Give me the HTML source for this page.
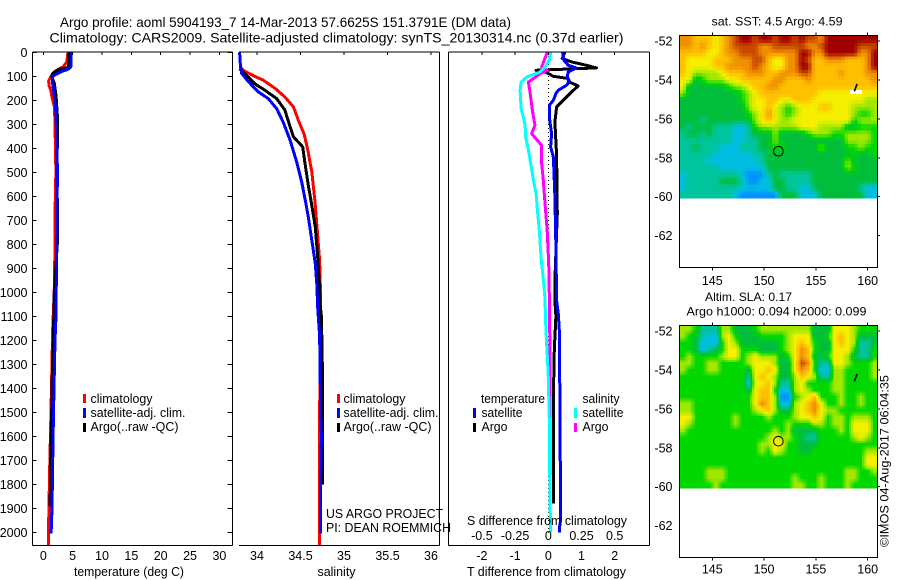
<!DOCTYPE html>
<html>
<head>
<meta charset="utf-8">
<title>Argo profile</title>
<style>
html,body{margin:0;padding:0;background:#fff;width:900px;height:580px;overflow:hidden}
svg{display:block}
text{font-family:"Liberation Sans",sans-serif;fill:#000}
.t12{font-size:12px}
.t13{font-size:12.5px}
.t14{font-size:14px}
</style>
</head>
<body>
<svg id="chart" width="900" height="580" viewBox="0 0 900 580" xmlns="http://www.w3.org/2000/svg">
<g id="plots"></g>
<g>
<text class="t14" x="60" y="27" textLength="451" lengthAdjust="spacingAndGlyphs">Argo profile: aoml 5904193_7 14-Mar-2013 57.6625S 151.3791E (DM data)</text>
<text class="t14" x="49.5" y="42.5" textLength="574" lengthAdjust="spacingAndGlyphs">Climatology: CARS2009. Satellite-adjusted climatology: synTS_20130314.nc (0.37d earlier)</text>
<text class="t13" x="74" y="576" textLength="110" lengthAdjust="spacingAndGlyphs">temperature (deg C)</text>
<text class="t13" x="317.5" y="576" textLength="38" lengthAdjust="spacingAndGlyphs">salinity</text>
<text class="t13" x="467" y="576" textLength="159" lengthAdjust="spacingAndGlyphs">T difference from climatology</text>
<text class="t13" x="467" y="525" textLength="160" lengthAdjust="spacingAndGlyphs">S difference from climatology</text>
<text class="t12" x="711.5" y="25.5" textLength="131" lengthAdjust="spacingAndGlyphs">sat. SST: 4.5 Argo: 4.59</text>
<text class="t12" x="705" y="301" textLength="87" lengthAdjust="spacingAndGlyphs">Altim. SLA: 0.17</text>
<text class="t12" x="686.5" y="315.5" textLength="180" lengthAdjust="spacingAndGlyphs">Argo h1000: 0.094 h2000: 0.099</text>
<text class="t13" x="326" y="518" textLength="117" lengthAdjust="spacingAndGlyphs">US ARGO PROJECT</text>
<text class="t13" x="326" y="532" textLength="125" lengthAdjust="spacingAndGlyphs">PI: DEAN ROEMMICH</text>
<text class="t12" transform="translate(888.5,547) rotate(-90)" x="0" y="0" textLength="172" lengthAdjust="spacingAndGlyphs">©IMOS 04-Aug-2017 06:04:35</text>
</g>
<g>
<rect x="83" y="394" width="3" height="9" fill="#ff0000"/>
<rect x="83" y="408" width="3" height="10" fill="#0000ff"/>
<rect x="83" y="423" width="3" height="9" fill="#000"/>
<text class="t13" x="90.5" y="403" textLength="62" lengthAdjust="spacingAndGlyphs">climatology</text>
<text class="t13" x="90.5" y="417" textLength="95" lengthAdjust="spacingAndGlyphs">satellite-adj. clim.</text>
<text class="t13" x="90.5" y="431" textLength="88" lengthAdjust="spacingAndGlyphs">Argo(..raw -QC)</text>
</g>
<g>
<rect x="337" y="394" width="3" height="9" fill="#ff0000"/>
<rect x="337" y="408" width="3" height="10" fill="#0000ff"/>
<rect x="337" y="423" width="3" height="9" fill="#000"/>
<text class="t13" x="343.5" y="403" textLength="62" lengthAdjust="spacingAndGlyphs">climatology</text>
<text class="t13" x="343.5" y="417" textLength="95" lengthAdjust="spacingAndGlyphs">satellite-adj. clim.</text>
<text class="t13" x="343.5" y="431" textLength="88" lengthAdjust="spacingAndGlyphs">Argo(..raw -QC)</text>
</g>
<g>
<text class="t13" x="481" y="403" textLength="64" lengthAdjust="spacingAndGlyphs">temperature</text>
<rect x="473" y="408" width="3" height="10" fill="#0000ff"/>
<rect x="473" y="423" width="3" height="9" fill="#000"/>
<text class="t13" x="481.5" y="417" textLength="41" lengthAdjust="spacingAndGlyphs">satellite</text>
<text class="t13" x="481.5" y="431" textLength="26" lengthAdjust="spacingAndGlyphs">Argo</text>
<text class="t13" x="582.5" y="403" textLength="37" lengthAdjust="spacingAndGlyphs">salinity</text>
<rect x="574" y="408" width="3" height="10" fill="#00ffff"/>
<rect x="574" y="423" width="3" height="9" fill="#ff00ff"/>
<text class="t13" x="582.5" y="417" textLength="41" lengthAdjust="spacingAndGlyphs">satellite</text>
<text class="t13" x="582.5" y="431" textLength="26" lengthAdjust="spacingAndGlyphs">Argo</text>
</g>
</svg>
<script>
// ---- axis tick values ----
const depthTicks = [0,100,200,300,400,500,600,700,800,900,1000,1100,1200,1300,1400,1500,1600,1700,1800,1900,2000];
const tempTicks = [0,5,10,15,20,25,30];
const salTicks = [34,34.5,35,35.5,36];
const tDiffTicks = [-2,-1,0,1,2];
const sDiffTicks = [-0.5,-0.25,0,0.25,0.5];
const lonTicks = [145,150,155,160];
const latTicks = [-52,-54,-56,-58,-60,-62];

// ---- temperature profiles (depth dbar / deg C) ----
const redTDepth = [0,40,60,70,80,90,100,120,140,160,190,230,300,500,600,900,1000,1150,1355,1550,1730,1950,2055];
const redTValue = [4.2,4.0,3.4,2.6,2.0,1.7,1.3,0.9,1.0,1.3,1.5,1.9,2.0,2.15,2.05,1.95,1.85,1.6,1.43,1.26,1.09,0.92,0.92];
const blueTDepth = [0,60,70,80,90,100,120,150,200,260,400,500,1000,1100,1200,1300,1400,1550,1700,1900,2005];
const blueTValue = [4.72,4.68,4.26,3.13,2.28,1.6,1.54,1.7,2.0,2.16,2.33,2.4,2.2,2.16,2.0,1.9,1.82,1.7,1.6,1.48,1.33];
const blackTDepth = [0,60,65,70,80,90,100,130,180,260,400,410,770,1000,1200,1350,1500,1700,1890];
const blackTValue = [4.43,4.26,4.0,2.85,2.0,1.54,1.43,1.87,2.16,2.39,2.39,2.28,2.45,1.87,1.7,1.54,1.43,1.26,1.15];

// ---- salinity profiles ----
const redSDepth = [0,60,75,98,116,151,186,228,283,339,401,498,623,728,866,1000,1550,2055];
const redSValue = [33.8,33.81,33.84,33.96,34.07,34.21,34.32,34.42,34.475,34.54,34.58,34.63,34.667,34.69,34.72,34.73,34.72,34.72];
const blueSDepth = [0,61,88,122,165,193,235,290,366,457,540,633,686,783,880,978,1050,1100,1180,1300,1500,1600,1800,2005];
const blueSValue = [33.8,33.81,33.824,33.9,34.015,34.13,34.226,34.30,34.38,34.456,34.514,34.563,34.59,34.63,34.67,34.69,34.695,34.705,34.72,34.725,34.73,34.74,34.73,34.73];
const blackSDepth = [68,88,130,158,193,240,310,352,394,457,554,616,728,866,978,1050,1100,1300,1800];
const blackSValue = [33.8,33.86,33.97,34.09,34.226,34.32,34.38,34.42,34.525,34.55,34.59,34.62,34.67,34.7,34.72,34.725,34.74,34.75,34.75];

// ---- differences from climatology ----
const argoTDiffDepth = [0,26,40,54,65,75,84,100,109,125,140,165,200,228,290,429,672,950,1033,1100,1240,1450,1860,1880];
const argoTDiffValue = [0.5,0.42,0.7,1.15,1.45,-0.37,-0.05,0.15,0.6,0.65,0.9,0.7,0.45,0.25,0.2,0.25,0.27,0.2,0.2,0.23,0.18,0.15,0.15,0.15];
const satTDiffDepth = [0,33,54,65,82,103,124,137,158,172,200,221,269,339,394,436,492,603,811,1033,1089,1158,1450,1950,1985,2001];
const satTDiffValue = [0.43,0.47,0.6,0.84,0.6,0.57,0.62,0.55,0.3,0.23,0.15,0.03,0.03,0.1,0.07,0.15,0.17,0.2,0.23,0.25,0.3,0.33,0.35,0.37,0.33,0.33];
const argoSDiffDepth = [0,6,61,75,89,124,165,248,304,339,388,464,533,630,742,880,1033,1228,1367,1880];
const argoSDiffValue = [-0.008,-0.012,-0.05,-0.008,-0.06,-0.15,-0.138,-0.118,-0.1,-0.125,-0.05,-0.05,-0.038,-0.025,-0.008,0.003,0.008,0.012,0.012,0.012];
const satSDiffDepth = [0,33,61,82,103,124,158,235,269,304,353,408,464,533,589,658,742,853,978,1033,1158,1256,1353,1547,1853,2000];
const satSDiffValue = [0.018,0.008,-0.025,-0.062,-0.162,-0.205,-0.212,-0.205,-0.188,-0.175,-0.17,-0.15,-0.132,-0.112,-0.092,-0.082,-0.068,-0.055,-0.032,-0.025,-0.018,-0.008,0,0.008,0.012,0.018];

// ---- map cell values (0 = coldest/lowest colour class, 10 = warmest/highest) ----
const sstGrid = [
[8,8,7,7,7,6,7,8,9,10,10,9,10,10,9,10,10,9,10,9,9,8,10,10,10,10,10,10,10,10],
[8,8,7,8,7,6,7,8,9,9,9,9,8,8,9,9,9,9,9,8,8,9,10,10,10,10,10,9,9,9],
[7,7,7,7,6,6,7,8,8,9,9,9,8,8,8,8,8,8,10,10,8,8,10,10,10,10,10,8,8,10],
[7,6,6,6,6,7,7,7,8,8,8,9,9,7,6,6,8,8,10,9,7,7,8,8,8,7,7,7,8,10],
[7,6,6,6,6,7,7,8,8,8,8,9,8,7,6,6,8,8,10,10,7,7,7,7,7,7,7,7,8,10],
[7,6,5,5,5,5,6,7,7,7,8,8,8,7,7,8,8,8,9,9,7,7,7,7,8,7,7,7,8,8],
[6,6,3,4,5,5,5,6,6,7,7,7,7,7,8,8,7,7,7,8,7,7,7,7,7,7,7,7,7,8],
[6,3,3,3,3,3,3,4,5,5,6,7,7,8,8,7,7,7,7,7,7,7,7,7,7,7,7,7,7,7],
[5,3,3,3,3,3,3,3,3,4,5,6,7,7,7,7,7,7,7,7,7,6,6,6,6,6,6,6,6,6],
[3,3,3,3,3,3,3,3,3,4,5,6,6,7,7,6,6,7,7,7,6,6,6,6,6,6,6,6,5,5],
[3,3,3,3,3,3,3,3,3,3,5,6,6,7,6,5,4,5,6,6,6,7,7,6,6,6,5,5,5,5],
[3,3,3,3,3,3,3,3,3,3,4,5,6,8,6,5,4,5,6,6,6,6,6,6,6,6,5,4,4,5],
[3,3,3,2,3,3,3,3,3,3,3,5,6,7,6,5,5,6,6,6,6,6,6,6,6,6,4,5,5,5],
[3,2,3,3,3,2,2,2,1,1,2,4,5,5,5,5,5,5,6,6,6,5,5,5,5,3,3,4,4,4],
[2,3,3,2,3,2,2,2,1,1,2,3,3,3,5,3,3,3,3,4,5,5,5,4,4,5,5,5,5,4],
[2,2,2,2,2,2,2,2,1,1,2,2,3,3,5,3,3,3,3,3,3,3,3,3,3,5,5,5,5,4],
[2,2,3,2,2,2,1,1,1,2,2,2,3,3,4,4,3,3,3,3,3,5,3,3,3,4,4,5,4,4],
[2,2,2,2,2,1,1,1,1,1,1,2,2,3,3,3,3,3,3,3,3,3,3,3,3,3,4,3,3,4],
[2,2,2,2,1,1,1,1,1,1,1,1,2,3,3,3,3,3,3,3,3,3,3,3,3,5,3,3,3,3],
[2,2,2,2,2,2,1,1,1,1,1,1,1,3,3,3,3,3,3,3,3,3,3,3,3,5,4,3,3,3],
[1,2,2,2,2,2,2,2,2,1,0,0,0,2,3,2,2,2,2,2,3,3,3,3,3,3,3,3,3,3],
[1,2,2,2,2,2,3,3,3,2,0,0,1,1,3,3,2,2,2,2,3,3,3,3,3,3,3,3,3,3],
[1,2,2,2,2,2,2,2,2,1,1,1,1,1,3,3,2,2,1,1,3,3,3,3,3,3,3,2,1,1],
[2,2,2,2,2,2,2,2,1,0,0,0,0,0,0,3,3,3,1,1,1,3,3,3,3,3,3,3,1,1]
];
const slaGrid = [
[5,5,4,2,2,2,5,5,3,3,3,4,5,5,5,5,5,5,5,5,3,3,3,6,6,6,5,4,4,4],
[5,4,3,2,1,1,5,6,4,3,3,3,4,4,4,4,5,6,6,6,3,3,4,6,7,6,5,3,3,3],
[4,4,3,1,1,1,4,6,5,3,3,3,3,3,3,4,5,6,7,6,4,3,3,6,7,6,5,2,2,3],
[4,4,3,1,2,3,4,6,6,4,4,4,3,3,3,4,5,6,8,7,4,3,3,6,6,6,4,2,2,4],
[4,5,4,4,4,4,5,6,6,4,5,6,5,5,5,3,4,6,8,7,3,3,4,6,6,5,3,2,2,4],
[5,5,4,4,5,5,4,4,4,4,5,6,6,6,5,3,3,6,9,8,4,2,2,6,6,5,4,4,4,5],
[5,4,4,4,5,5,4,4,4,4,3,6,6,7,6,3,3,6,8,7,4,1,1,5,5,4,4,4,4,5],
[4,4,4,4,4,4,4,4,4,4,2,6,7,6,5,3,3,5,7,6,5,2,2,5,5,4,4,4,4,5],
[4,4,4,4,4,4,4,4,4,4,1,6,6,7,5,2,2,5,6,4,4,4,4,5,5,4,4,4,4,4],
[4,4,4,4,4,4,4,4,4,4,3,6,7,7,4,1,1,5,6,5,4,4,4,5,5,4,4,4,4,4],
[4,4,4,4,4,4,4,4,4,4,4,6,7,7,5,0,0,4,5,6,7,4,4,4,5,4,4,5,4,4],
[5,5,4,4,4,4,4,4,4,4,4,6,8,7,5,1,1,5,6,7,8,6,4,4,5,4,4,5,4,4],
[5,5,4,4,4,4,4,4,4,4,4,5,6,7,5,3,3,5,6,7,8,6,5,5,4,4,4,4,4,4],
[6,6,4,4,4,4,4,4,5,4,4,4,4,5,4,4,4,5,6,6,7,6,4,5,5,4,5,5,5,4],
[6,5,4,4,4,4,4,4,5,4,4,4,4,4,4,4,5,4,4,4,5,5,4,5,5,4,6,6,6,4],
[5,4,4,4,4,4,4,4,4,4,4,4,4,4,5,4,5,3,3,3,3,4,4,4,5,4,6,6,6,4],
[4,4,4,4,4,4,4,4,4,4,4,4,4,5,6,5,5,4,3,2,2,4,4,4,4,4,5,6,5,4],
[4,4,4,4,4,4,4,4,4,4,4,4,5,5,6,6,4,4,3,3,3,4,4,4,4,4,4,4,4,4],
[4,4,4,4,4,4,4,4,4,4,4,4,5,4,6,5,4,4,3,3,4,4,4,4,4,4,4,4,5,5],
[4,4,4,4,4,4,4,4,4,4,4,4,4,4,4,4,4,4,4,4,4,4,4,4,4,4,4,4,6,6],
[4,4,4,4,4,4,4,4,4,4,4,4,4,4,4,4,4,4,4,4,4,4,4,4,4,4,4,4,6,6],
[4,4,4,4,5,5,5,4,4,4,4,4,4,4,4,4,4,4,4,4,4,4,4,4,4,5,5,4,4,5],
[4,4,4,4,5,5,5,4,4,4,4,4,4,4,4,4,4,5,4,4,4,5,4,4,4,5,5,4,4,4],
[4,4,4,4,4,5,4,4,4,4,4,4,4,4,4,4,4,5,5,4,4,5,4,4,4,5,4,4,4,4]
];
const profileLon = 151.3791;
const profileLat = -57.6625;
const trackLon = [158.72,158.98];
const trackLat = [-54.58,-54.2];

// ---- axis functions ----
const yDepth = d => 52.3 + d * 0.24;
const xTemp = v => 43.3 + v * 5.87;
const xSal = v => 257 + (v - 34) * 87;
const xTDiff = v => 548.3 + v * 33.2;
const xSDiff = v => 548.3 + v * 132.8;
const xLon = v => 712.3 + (v - 145) * 10.36;
const yLatTop = v => 196.7 + (v + 60) * -19.45;
const yLatBottom = v => 486.7 + (v + 60) * -19.45;

const NS = 'http://www.w3.org/2000/svg';
const root = document.getElementById('plots');
function make(tag, props, parent) {
  const e = document.createElementNS(NS, tag);
  for (const k in props) e.setAttribute(k, props[k]);
  (parent || root).appendChild(e);
  return e;
}
function seg(x1, y1, x2, y2) {
  const e = make('line', {x1, y1, x2, y2, stroke: '#000', 'stroke-width': 1, 'shape-rendering': 'crispEdges'});
  
  return e;
}
function label(x, y, str, anchor) {
  const e = make('text', {x, y, 'text-anchor': anchor, class: 't13'});
  e.textContent = str;
  
  return e;
}
function series(depths, values, xFn, colour, width) {
  const pts = depths.map((d, i) => xFn(values[i]).toFixed(1) + ',' + yDepth(d).toFixed(1)).join(' ');
  const e = make('polyline', {points: pts, fill: 'none', stroke: colour, 'stroke-width': width || 3, 'stroke-linejoin': 'round', 'shape-rendering': 'crispEdges'});
  
  return e;
}
const paletteRGB = [[0,144,255],[0,190,225],[0,196,156],[0,190,60],[0,216,0],[160,232,0],[244,240,0],[255,192,0],[240,144,0],[200,72,0],[160,0,0]];
function colourOf(v) {
  const t = Math.max(0, Math.min(10, v));
  const i = Math.min(9, Math.floor(t));
  const f = t - i;
  const a = paletteRGB[i], b = paletteRGB[i + 1];
  return 'rgb(' + a.map((c, k) => Math.round(c + (b[k] - c) * f)).join(',') + ')';
}
function sampleGrid(grid, r, c) {
  const rr = Math.max(0, Math.min(grid.length - 1, r));
  const cc = Math.max(0, Math.min(grid[0].length - 1, c));
  const r0 = Math.floor(rr), c0 = Math.floor(cc);
  const r1 = Math.min(grid.length - 1, r0 + 1), c1 = Math.min(grid[0].length - 1, c0 + 1);
  const fr = rr - r0, fc = cc - c0;
  return (grid[r0][c0] * (1 - fc) + grid[r0][c1] * fc) * (1 - fr) + (grid[r1][c0] * (1 - fc) + grid[r1][c1] * fc) * fr;
}
function drawMap(grid, top, name, sub) {
  const g = make('g', {'shape-rendering': 'crispEdges'});
  
  
  const rows = grid.length * sub, cols = grid[0].length * sub;
  const cw = 198 / cols, ch = 162 / rows;
  for (let r = 0; r < rows; r++) {
    for (let c = 0; c < cols; c++) {
      const v = sampleGrid(grid, (r + 0.5) / sub - 0.5, (c + 0.5) / sub - 0.5);
      const cell = make('rect', {x: (679.5 + c * cw).toFixed(2), y: (top + r * ch).toFixed(2), width: (cw + 0.4).toFixed(2), height: (ch + 0.4).toFixed(2), fill: colourOf(v)}, g);
      
      
    }
  }
}
function drawMapFrame(top, bottom, yLat, labelY, prefix) {
  const f = make('rect', {x: 679.5, y: top, width: 198, height: bottom - top, fill: 'none', stroke: '#000', 'stroke-width': 1, 'shape-rendering': 'crispEdges'});
  
  
  lonTicks.forEach(v => {
    const a = seg(xLon(v), top - 3, xLon(v), top);
    
    const b = seg(xLon(v), bottom, xLon(v), bottom + 3);
    
    const t = label(xLon(v), labelY, String(v), 'middle');
    
  });
  latTicks.forEach(v => {
    const a = seg(877.5, yLat(v), 880, yLat(v));
    
    const t = label(672.5, yLat(v) + 4.5, String(v), 'end');
    
  });
}
function drawMarkers(yLat, prefix) {
  const track = make('polyline', {points: trackLon.map((v, i) => xLon(v).toFixed(1) + ',' + yLat(trackLat[i]).toFixed(1)).join(' '), fill: 'none', stroke: '#000', 'stroke-width': 1.6});
  
  
  const c = make('circle', {cx: xLon(profileLon).toFixed(1), cy: yLat(profileLat).toFixed(1), r: 4.8, fill: 'none', stroke: '#000', 'stroke-width': 1});
  
  
}

// ---- data marks: panel 1 ----
const redT = series(redTDepth, redTValue, xTemp, '#ff0000');

const blackT = series(blackTDepth, blackTValue, xTemp, '#000');

const blueT = series(blueTDepth, blueTValue, xTemp, '#0000ff');


// ---- data marks: panel 2 ----
const redS = series(redSDepth, redSValue, xSal, '#ff0000');

const blackS = series(blackSDepth, blackSValue, xSal, '#000');

const blueS = series(blueSDepth, blueSValue, xSal, '#0000ff');


// ---- data marks: panel 3 ----
const zeroLine = make('line', {x1: xTDiff(0), y1: 52, x2: xTDiff(0), y2: yDepth(2000), stroke: '#000', 'stroke-width': 1, 'stroke-dasharray': '1 3', 'shape-rendering': 'crispEdges'});


const blackD = series(argoTDiffDepth, argoTDiffValue, xTDiff, '#000');

const blueD = series(satTDiffDepth, satTDiffValue, xTDiff, '#0000ff');

const magD = series(argoSDiffDepth, argoSDiffValue, xSDiff, '#ff00ff');

const cyanD = series(satSDiffDepth, satSDiffValue, xSDiff, '#00ffff');


// ---- axes: panel frames ----
[[32.5,52,232.5,52],[32.5,52,32.5,545.5],[32.5,545.5,232.5,545.5],[232.5,52,232.5,545.5],
 [239,52,439.5,52],[239,545.5,439.5,545.5],[439.5,52,439.5,545.5],
 [448.5,52,649.5,52],[448.5,545.5,649.5,545.5],[448.5,52,448.5,545.5],[649.5,52,649.5,545.5]].forEach(s => {
  const e = seg(s[0], s[1], s[2], s[3]);
  
});
depthTicks.forEach(d => {
  const y = yDepth(d);
  const a = seg(32.5, y, 36.5, y);
  
  const b = seg(227.5, y, 232.5, y);
  
  const t = label(27.5, y + 4.5, String(d), 'end');
  
});
tempTicks.forEach(v => {
  const a = seg(xTemp(v), 52, xTemp(v), 55);
  
  const t = label(xTemp(v), 560, String(v), 'middle');
  
});
salTicks.forEach(v => {
  const a = seg(xSal(v), 52, xSal(v), 55);
  
  const t = label(xSal(v), 560, String(v), 'middle');
  
});
tDiffTicks.forEach(v => {
  const a = seg(xTDiff(v), 52, xTDiff(v), 55);
  
  const t = label(xTDiff(v), 560, String(v), 'middle');
  
});
sDiffTicks.forEach(v => {
  const t = label(xSDiff(v), 540, String(v), 'middle');
  
});

// ---- maps ----
drawMap(sstGrid, 36, 'sst-map-heatmap', 2);
const gap = make('rect', {x: 850, y: 90, width: 12, height: 4, fill: '#fff'});


drawMapFrame(35.5, 267.5, yLatTop, 285, 'sst-map');
drawMarkers(yLatTop, 'sst-map');
drawMap(slaGrid, 326, 'sla-map-heatmap', 3);
drawMapFrame(325.5, 557.5, yLatBottom, 573.5, 'sla-map');
drawMarkers(yLatBottom, 'sla-map');
</script>
</body>
</html>
